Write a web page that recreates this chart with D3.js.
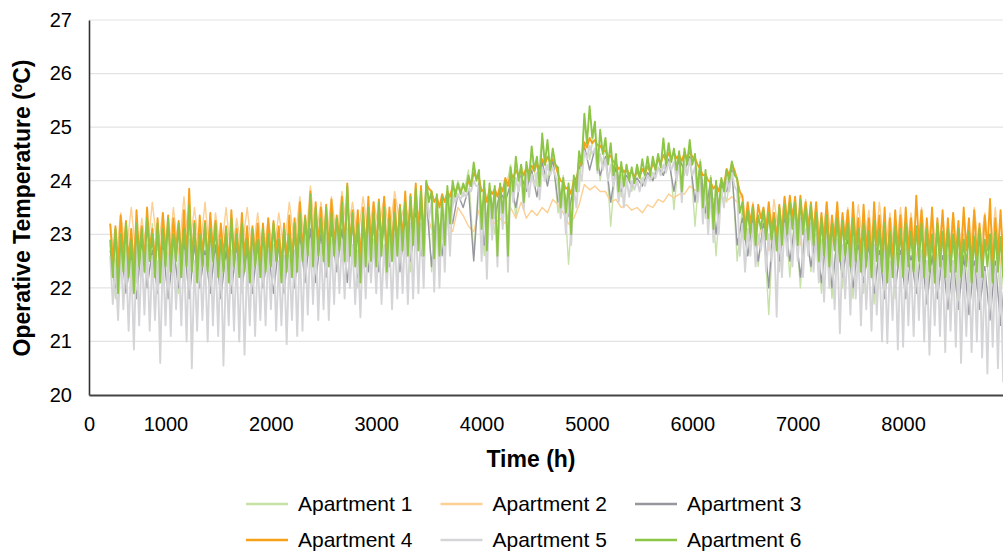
<!DOCTYPE html>
<html>
<head>
<meta charset="utf-8">
<script src="https://cdn.jsdelivr.net/npm/d3@7"></script>
<style>
  body { margin: 0; background: #fff; }
  svg { display: block; font-family: "Liberation Sans", Arial, sans-serif; }
</style>
</head>
<body>
<svg id="chart" width="1003" height="556"></svg>
<script>
// time stamps (h) of the daily peaks; troughs sit half a step later
const fineHours = d3.range(475, 9000, 50);    // 171 peaks
const coarseHours = d3.range(475, 9000, 100); // 86 peaks

const yTicks = [20, 21, 22, 23, 24, 25, 26, 27];
const xTicks = [0, 1000, 2000, 3000, 4000, 5000, 6000, 7000, 8000];

const seriesNames = ["Apartment 1", "Apartment 2", "Apartment 3", "Apartment 4", "Apartment 5", "Apartment 6"];
const seriesColors = ["#c6e2a6", "#fccf92", "#96969e", "#f7a11a", "#d5d5d7", "#8dc646"];

// ---- Apartment 1 (coarse) ----
const apt1Max = [
  22.8, 23.0, 23.1, 23.0, 23.2, 23.1, 23.0, 23.3, 23.1, 23.2,
  23.1, 23.0, 23.2, 23.0, 23.1, 23.0, 23.1, 23.2, 23.3, 23.6,
  23.4, 23.3, 23.5, 23.3, 23.4, 23.5, 23.4, 23.5, 23.6, 23.8,
  24.0, 23.4, 23.8, 24.0, 24.2, 24.1, 23.9, 23.9, 24.3, 24.3,
  24.5, 24.8, 24.5, 24.1, 23.9, 25.1, 25.0, 24.7, 24.4, 24.3,
  24.3, 24.4, 24.4, 24.7, 24.5, 24.6, 24.4, 24.1, 24.0, 24.3,
  23.5, 23.4, 23.3, 23.4, 23.5, 23.5, 23.4, 23.3, 23.2, 23.2,
  23.1, 23.1, 23.2, 23.0, 23.1, 23.0, 23.1, 23.1, 23.0, 23.0,
  22.9, 23.0, 23.0, 22.9, 23.0, 22.9
];
const apt1Min = [
  21.8, 22.0, 22.1, 22.3, 22.0, 22.2, 21.9, 22.2, 22.0, 22.1,
  22.0, 22.2, 21.9, 22.1, 22.0, 22.2, 22.0, 22.1, 22.2, 22.4,
  22.3, 22.4, 22.5, 22.0, 22.3, 22.3, 22.4, 22.5, 22.3, 22.6,
  22.3, 22.9, 23.5, 23.7, 22.6, 22.6, 23.0, 23.8, 23.3, 23.9,
  23.9, 24.0, 23.4, 22.44, 23.8, 24.4, 24.0, 23.15, 23.7, 23.8,
  23.9, 24.0, 24.1, 23.46, 24.1, 23.15, 23.3, 22.6, 23.6, 22.5,
  22.6, 22.4, 21.5, 22.3, 22.2, 22.0, 22.3, 21.9, 21.8, 22.0,
  21.8, 21.9, 21.7, 22.0, 21.8, 21.9, 22.0, 21.8, 21.9, 21.9,
  21.8, 21.9, 21.7, 21.9, 21.8, 21.8
];

// ---- Apartment 2 (coarse) ----
const apt2Max = [
  23.2, 23.4, 23.5, 23.3, 23.6, 23.4, 23.5, 23.7, 23.5, 23.6,
  23.4, 23.5, 23.3, 23.5, 23.4, 23.3, 23.4, 23.6, 23.7, 23.9,
  23.6, 23.7, 23.8, 23.6, 23.7, 23.6, 23.7, 23.8, 23.6, 23.5,
  23.4, 23.2, 23.2, 23.5, 23.15, 23.45, 23.35, 23.3, 23.5, 23.6,
  23.45, 23.5, 23.65, 23.4, 23.3, 23.93, 23.9, 23.8, 23.65, 23.55,
  23.5, 23.55, 23.65, 23.75, 23.75, 23.9, 23.88, 23.72, 23.72, 23.7,
  23.75, 23.6, 23.5, 23.65, 23.7, 23.6, 23.65, 23.55, 23.6, 23.5,
  23.5, 23.55, 23.45, 23.6, 23.4, 23.5, 23.4, 23.5, 23.4, 23.35,
  23.4, 23.35, 23.5, 23.4, 23.5, 23.6
];
const apt2Min = [
  22.4, 22.6, 22.5, 22.6, 22.7, 22.5, 22.6, 22.7, 22.6, 22.5,
  22.6, 22.5, 22.7, 22.6, 22.5, 22.6, 22.7, 22.8, 22.7, 22.9,
  22.8, 22.9, 23.0, 22.9, 23.0, 23.1, 23.0, 23.2, 23.1, 23.3,
  23.1, 23.1, 23.05, 23.35, 23.05, 23.4, 23.2, 23.2, 23.3, 23.3,
  23.35, 23.4, 23.55, 23.19, 23.55, 23.83, 23.8, 23.6, 23.5, 23.45,
  23.4, 23.5, 23.6, 23.68, 23.75, 23.82, 23.65, 23.6, 23.62, 23.6,
  22.9, 22.8, 22.7, 22.9, 23.0, 22.8, 22.9, 22.7, 22.8, 22.6,
  22.6, 22.7, 22.5, 22.6, 22.5, 22.6, 22.5, 22.6, 22.5, 22.4,
  22.5, 22.4, 22.6, 22.5, 22.4, 22.5
];

// ---- Apartment 3 (coarse) ----
const apt3Max = [
  22.7, 22.8, 22.6, 22.9, 22.7, 22.8, 22.7, 22.9, 22.8, 22.7,
  22.8, 22.7, 22.8, 22.7, 22.8, 22.7, 22.8, 22.9, 23.0, 23.1,
  23.0, 23.1, 23.1, 23.2, 23.1, 23.2, 23.2, 23.3, 23.3, 23.4,
  23.7, 23.5, 23.6, 23.75, 23.85, 23.95, 23.8, 23.8, 23.95, 24.1,
  24.2, 24.35, 24.4, 23.9, 23.95, 24.65, 24.6, 24.45, 24.25, 24.1,
  24.05, 24.15, 24.25, 24.4, 24.4, 24.45, 24.3, 24.0, 23.9, 24.2,
  23.3, 23.3, 23.2, 23.4, 23.3, 23.2, 23.1, 23.0, 23.0, 22.9,
  22.9, 22.8, 22.8, 22.7, 22.8, 22.7, 22.6, 22.7, 22.6, 22.6,
  22.5, 22.6, 22.5, 22.4, 22.5, 22.4
];
const apt3Min = [
  22.0, 21.9, 21.8, 22.0, 21.9, 21.8, 22.0, 21.8, 22.0, 21.9,
  21.8, 21.9, 22.0, 21.9, 22.0, 21.9, 21.9, 22.0, 22.1, 22.1,
  22.2, 22.3, 22.1, 22.2, 22.3, 22.3, 22.4, 22.3, 22.5, 22.6,
  22.4, 22.6, 23.2, 23.5, 22.5, 22.8, 23.3, 23.6, 23.5, 23.8,
  23.7, 23.9, 23.6, 23.34, 24.2, 24.2, 24.1, 23.6, 23.8, 23.9,
  23.9, 24.0, 24.1, 23.8, 24.2, 23.6, 23.4, 23.0, 23.8, 22.8,
  22.6, 22.5, 22.0, 22.5, 22.5, 22.2, 22.4, 22.1, 22.0, 22.2,
  22.0, 22.1, 21.9, 21.8, 22.0, 21.8, 21.9, 21.7, 21.8, 21.6,
  21.6, 21.5, 21.6, 21.4, 21.3, 21.2
];

// ---- Apartment 4 (fine) ----
const apt4Max = [
  23.2, 23.15, 23.35, 23.25, 23.1, 23.45, 23.15, 23.5, 23.1, 23.3,
  23.4, 23.35, 23.3, 23.25, 23.45, 23.85, 23.25, 23.35, 23.25, 23.4,
  23.25, 23.2, 23.15, 23.45, 23.1, 23.4, 23.15, 23.15, 23.2, 23.2,
  23.3, 23.25, 23.15, 23.2, 23.35, 23.3, 23.6, 23.35, 23.8, 23.6,
  23.5, 23.55, 23.65, 23.35, 23.7, 23.95, 23.45, 23.45, 23.5, 23.7,
  23.6, 23.65, 23.7, 23.5, 23.65, 23.55, 23.8, 23.75, 23.95, 23.9,
  23.95, 23.8, 23.7, 23.75, 23.8, 23.9, 23.9, 23.9, 24.0, 24.15,
  24.05, 23.85, 23.85, 23.85, 23.9, 24.05, 24.15, 24.2, 24.2, 24.25,
  24.28, 24.32, 24.4, 24.45, 24.4, 24.12, 23.97, 23.88, 24.02, 24.38,
  24.72, 24.8, 24.76, 24.66, 24.56, 24.46, 24.32, 24.26, 24.22, 24.17,
  24.17, 24.22, 24.27, 24.32, 24.42, 24.48, 24.52, 24.52, 24.47, 24.52,
  24.54, 24.42, 24.22, 24.12, 23.97, 23.92, 24.02, 24.22, 24.32, 24.02,
  23.7, 23.6, 23.55, 23.55, 23.5, 23.6, 23.4, 23.55, 23.7, 23.72,
  23.7, 23.72, 23.6, 23.6, 23.6, 23.4, 23.6, 23.35, 23.6, 23.4,
  23.45, 23.6, 23.3, 23.55, 23.3, 23.6, 23.35, 23.5, 23.3, 23.45,
  23.35, 23.5, 23.3, 23.72, 23.45, 23.3, 23.5, 23.3, 23.45, 23.3,
  23.4, 23.25, 23.5, 23.3, 23.45, 23.2, 23.35, 23.66, 23.3, 23.45,
  23.7
];
const apt4Min = [
  22.5, 22.4, 22.6, 22.5, 22.3, 22.6, 22.5, 22.7, 22.5, 22.4,
  22.6, 22.5, 22.7, 22.5, 22.6, 22.5, 22.4, 22.6, 22.5, 22.7,
  22.5, 22.6, 22.4, 22.6, 22.5, 22.6, 22.4, 22.6, 22.5, 22.5,
  22.6, 22.7, 22.4, 22.5, 22.5, 22.6, 22.7, 22.8, 22.7, 22.8,
  22.7, 22.7, 22.8, 22.9, 22.7, 22.8, 22.7, 22.5, 22.7, 22.8,
  22.7, 22.8, 22.6, 22.7, 22.8, 22.9, 22.9, 23.0, 23.0, 22.9,
  23.85, 23.6, 23.5, 23.6, 23.7, 23.8, 23.8, 23.82, 23.9, 24.05,
  23.8, 23.6, 23.75, 23.7, 23.8, 23.9, 24.05, 24.1, 24.1, 24.15,
  24.18, 24.22, 24.3, 24.35, 24.3, 24.0, 23.85, 23.75, 23.92, 24.28,
  24.62, 24.7, 24.66, 24.56, 24.46, 24.36, 24.22, 24.16, 24.12, 24.07,
  24.07, 24.12, 24.17, 24.22, 24.32, 24.38, 24.42, 24.42, 24.37, 24.42,
  24.44, 24.3, 24.1, 24.0, 23.85, 23.8, 23.9, 24.1, 24.2, 23.8,
  23.1, 23.2, 23.0, 23.3, 23.1, 23.1, 22.9, 23.0, 23.2, 23.3,
  23.0, 23.2, 23.1, 23.0, 22.8, 22.9, 22.7, 22.9, 22.8, 22.9,
  22.7, 22.8, 22.6, 22.7, 22.5, 22.8, 22.6, 22.4, 22.5, 22.7,
  22.5, 22.7, 22.6, 22.8, 22.5, 22.6, 22.4, 22.7, 22.5, 22.6,
  22.6, 22.5, 22.7, 22.4, 22.6, 22.5, 22.7, 22.4, 22.6, 22.5,
  22.5
];

// ---- Apartment 5 (fine) ----
const apt5Max = [
  22.6, 22.4, 22.7, 22.6, 22.5, 22.8, 22.7, 22.8, 22.6, 22.5,
  22.7, 22.6, 22.8, 22.6, 22.7, 22.9, 22.5, 22.7, 22.6, 22.8,
  22.6, 22.7, 22.5, 22.7, 22.6, 22.7, 22.5, 22.7, 22.6, 22.6,
  22.7, 22.8, 22.5, 22.6, 22.6, 22.7, 22.8, 22.9, 22.9, 22.9,
  22.8, 22.9, 22.9, 23.0, 22.9, 23.1, 22.8, 22.7, 22.9, 23.0,
  22.9, 23.0, 22.8, 22.9, 23.0, 23.1, 23.1, 23.2, 23.3, 23.2,
  23.8, 23.6, 23.5, 23.55, 23.6, 23.75, 23.75, 23.78, 23.85, 24.0,
  23.9, 23.7, 23.75, 23.7, 23.75, 23.85, 24.0, 24.05, 24.05, 24.1,
  24.12, 24.15, 24.25, 24.3, 24.25, 23.95, 23.8, 23.7, 23.85, 24.2,
  24.55, 24.65, 24.6, 24.5, 24.4, 24.3, 24.15, 24.1, 24.05, 24.0,
  24.0, 24.05, 24.1, 24.15, 24.25, 24.3, 24.35, 24.35, 24.3, 24.35,
  24.4, 24.25, 24.05, 23.95, 23.8, 23.75, 23.85, 24.05, 24.15, 23.8,
  23.2, 23.1, 23.2, 23.0, 23.1, 23.0, 23.0, 23.2, 23.2, 23.3,
  23.2, 23.3, 23.1, 23.2, 23.0, 22.9, 23.0, 22.8, 22.9, 22.8,
  22.8, 22.9, 22.7, 22.8, 22.6, 22.8, 22.6, 22.7, 22.5, 22.6,
  22.6, 22.7, 22.5, 22.6, 22.7, 22.5, 22.4, 22.6, 22.5, 22.6,
  22.5, 22.6, 22.4, 22.5, 22.4, 22.6, 22.3, 22.5, 22.4, 22.4,
  22.3
];
const apt5Min = [
  21.7, 21.4, 21.6, 21.2, 20.85, 21.3, 21.5, 21.2, 21.4, 20.6,
  21.3, 21.1, 21.6, 21.3, 21.0, 20.5, 21.2, 21.4, 21.0, 21.3,
  21.1, 20.55, 21.3, 21.2, 21.0, 20.75, 21.3, 21.1, 21.4, 21.3,
  21.6, 21.2, 21.3, 20.95, 21.4, 21.1, 21.2, 21.5, 21.7, 21.4,
  21.6, 21.4, 21.7, 21.9, 21.8, 22.0, 21.7, 21.45, 21.8, 22.1,
  21.9, 21.7, 22.0, 21.6, 21.8, 21.9, 21.7, 21.8, 21.9, 22.0,
  23.3, 21.93, 22.0, 22.3, 22.6, 23.6, 23.65, 23.7, 23.8, 23.9,
  22.5, 22.17, 22.9, 22.4, 23.1, 22.3, 23.6, 23.8, 23.46, 23.7,
  23.9, 23.65, 24.0, 24.1, 24.1, 23.3, 23.0, 22.8, 23.5, 24.0,
  24.4, 24.5, 24.14, 24.2, 24.0, 23.9, 23.6, 23.5, 23.7, 23.83,
  23.8, 23.9, 24.0, 24.05, 24.1, 24.15, 24.2, 24.0, 23.6, 24.1,
  24.1, 23.6, 23.2, 23.0, 22.85, 23.0, 23.5, 23.8, 23.9, 22.6,
  22.3, 22.6, 22.4, 22.7, 22.3, 22.5, 21.46, 22.2, 22.6, 22.4,
  22.5, 22.2, 22.6, 22.3, 22.1, 21.74, 22.0, 21.6, 21.15, 21.8,
  21.5, 21.8, 21.3, 21.6, 21.2, 21.5, 21.0, 20.97, 21.4, 20.85,
  20.9, 21.3, 21.1, 21.4, 21.0, 20.75, 21.3, 21.1, 20.8, 21.2,
  20.9, 20.6, 21.1, 20.8, 21.0, 20.7, 20.4, 20.9, 20.5, 20.25,
  20.2
];

// ---- Apartment 6 (fine) ----
const apt6Max = [
  22.9, 23.1, 23.0, 23.2, 22.9, 23.2, 23.1, 23.3, 23.0, 23.2,
  23.1, 23.3, 23.0, 23.2, 23.1, 23.55, 23.2, 23.0, 23.2, 23.1,
  23.2, 22.9, 23.1, 23.3, 23.0, 23.2, 22.9, 23.1, 22.9, 23.1,
  23.0, 23.2, 22.9, 23.1, 23.0, 23.2, 23.4, 23.3, 23.75, 23.5,
  23.3, 23.5, 23.4, 23.3, 23.6, 23.9, 23.4, 23.2, 23.4, 23.5,
  23.4, 23.6, 23.5, 23.3, 23.4, 23.5, 23.6, 23.7, 23.85, 23.8,
  24.0, 23.8, 23.75, 23.7, 23.9, 24.0, 23.95, 23.95, 24.1, 24.34,
  24.2, 24.0, 23.95, 23.9, 23.95, 24.0, 24.25, 24.45, 24.3, 24.35,
  24.64, 24.45, 24.88, 24.76, 24.6, 24.25, 24.05, 23.95, 24.1, 24.55,
  25.25, 25.39, 25.1, 24.95, 24.8, 24.7, 24.5, 24.35, 24.3, 24.25,
  24.3, 24.4, 24.45, 24.45, 24.5, 24.79, 24.7, 24.6, 24.55, 24.6,
  24.76, 24.5, 24.35, 24.2, 24.05, 24.0, 24.05, 24.2, 24.36, 24.05,
  23.6, 23.45, 23.5, 23.35, 23.45, 23.4, 23.3, 23.5, 23.55, 23.6,
  23.6, 23.65, 23.5, 23.55, 23.4, 23.3, 23.35, 23.2, 23.3, 23.25,
  23.2, 23.3, 23.1, 23.2, 23.05, 23.25, 23.1, 23.2, 23.05, 23.15,
  23.1, 23.2, 23.05, 23.15, 23.2, 23.1, 23.0, 23.2, 23.05, 23.1,
  23.0, 23.1, 22.9, 23.05, 22.95, 23.1, 22.9, 23.0, 23.05, 22.95,
  23.0
];
const apt6Min = [
  22.2, 21.9, 22.3, 22.2, 21.9, 22.4, 22.3, 22.5, 22.2, 22.1,
  22.4, 22.3, 22.5, 22.2, 22.4, 22.3, 22.1, 22.4, 22.3, 22.5,
  22.2, 22.3, 22.1, 22.4, 22.2, 22.3, 22.1, 22.4, 22.2, 22.3,
  22.4, 22.5, 22.1, 22.3, 22.2, 22.3, 22.5, 22.6, 22.4, 22.6,
  22.5, 22.4, 22.6, 22.7, 22.5, 22.6, 22.4, 22.1, 22.4, 22.5,
  22.4, 22.6, 22.3, 22.5, 22.6, 22.7, 22.6, 22.8, 22.7, 22.6,
  23.6, 22.55, 22.6, 22.8, 23.2, 23.7, 23.75, 23.8, 23.9, 24.0,
  23.1, 22.7, 23.3, 22.6, 23.4, 22.6, 23.8, 24.0, 23.6, 24.0,
  24.2, 23.9, 24.3, 24.2, 24.3, 23.5, 23.4, 23.0, 23.8, 24.3,
  24.7, 24.8, 24.2, 24.5, 24.3, 24.1, 23.8, 23.9, 24.0, 23.95,
  24.05, 24.1, 24.1, 24.2, 24.25, 24.3, 24.35, 24.2, 23.8, 24.3,
  24.3, 23.8, 23.5, 23.3, 23.1, 23.4, 23.8, 24.0, 24.1, 23.4,
  22.9, 23.0, 22.8, 23.1, 22.9, 22.9, 22.7, 22.8, 23.0, 23.1,
  22.8, 23.0, 22.9, 22.8, 22.5, 22.6, 22.4, 22.7, 22.5, 22.6,
  22.4, 22.5, 22.3, 22.4, 22.2, 22.5, 22.3, 22.1, 22.2, 22.4,
  22.2, 22.4, 22.3, 22.5, 22.2, 22.3, 22.1, 22.4, 22.2, 22.3,
  22.3, 22.2, 22.4, 22.1, 22.3, 22.2, 22.4, 22.1, 22.3, 22.2,
  22.1
];

// peak / trough pairs into one polyline
function zigzag(hours, maxs, mins, half) {
  return hours.flatMap((h, i) => [[h, maxs[i]], [h + half, mins[i]]]);
}

const series = [
  zigzag(coarseHours, apt1Max, apt1Min, 50),
  zigzag(coarseHours, apt2Max, apt2Min, 50),
  zigzag(coarseHours, apt3Max, apt3Min, 50),
  zigzag(fineHours, apt4Max, apt4Min, 25),
  zigzag(fineHours, apt5Max, apt5Min, 25),
  zigzag(fineHours, apt6Max, apt6Min, 25)
];

const plot = {left: 89, right: 1003, top: 20, bottom: 395};

const x = d3.scaleLinear().domain([274, 8948]).range([plot.left, plot.right]);
const xAxisScale = x.copy().clamp(true);
const y = d3.scaleLinear().domain([20, 27]).range([plot.bottom, plot.top]);

const svg = d3.select("#chart");

svg.append("defs").append("clipPath").attr("id", "plotClip")
  .append("rect")
  .attr("x", plot.left).attr("y", plot.top - 2)
  .attr("width", plot.right - plot.left).attr("height", plot.bottom - plot.top + 2);

// gridlines
svg.append("g").selectAll("line")
  .data(yTicks.slice(1))
  .enter().append("line")
  .attr("x1", plot.left).attr("x2", plot.right)
  .attr("y1", d => y(d)).attr("y2", d => y(d))
  .attr("stroke", "#e3e3e3").attr("stroke-width", 1.2);

// series
const line = d3.line().x(d => x(d[0])).y(d => y(d[1]));
svg.append("g").attr("clip-path", "url(#plotClip)")
  .selectAll("path")
  .data(series)
  .enter().append("path")
  .attr("d", line)
  .attr("fill", "none")
  .attr("stroke", (d, i) => seriesColors[i])
  .attr("stroke-width", (d, i) => i >= 3 ? 1.9 : 1.4)
  .attr("stroke-linejoin", "round");

// axes
const yAxis = svg.append("g")
  .attr("transform", "translate(" + plot.left + ",0)")
  .call(d3.axisLeft(y).tickValues(yTicks).tickSize(0).tickPadding(17).tickFormat(d3.format("d")));
yAxis.select(".domain").attr("stroke", "#333").attr("stroke-width", 1.6);
yAxis.selectAll("text").attr("font-size", 20).attr("fill", "#000")
  .attr("font-family", "Liberation Sans, Arial, sans-serif");

const xAxis = svg.append("g")
  .attr("transform", "translate(0," + plot.bottom + ")")
  .call(d3.axisBottom(xAxisScale).tickValues(xTicks).tickSize(0).tickPadding(22).tickFormat(d3.format("d")));
xAxis.select(".domain").attr("stroke", "#444").attr("stroke-width", 1.8);
xAxis.selectAll("text").attr("font-size", 20).attr("fill", "#000")
  .attr("font-family", "Liberation Sans, Arial, sans-serif");

// titles
svg.append("text")
  .attr("x", 531).attr("y", 467)
  .attr("text-anchor", "middle")
  .attr("font-size", 23).attr("font-weight", "bold")
  .text("Time (h)");

svg.append("text")
  .attr("transform", "translate(30,208) rotate(-90)")
  .attr("text-anchor", "middle")
  .attr("font-size", 23).attr("font-weight", "bold")
  .text("Operative Temperature (ºC)");

// legend, 3 per row
const legend = svg.append("g").selectAll("g")
  .data(seriesNames)
  .enter().append("g")
  .attr("transform", (d, i) => "translate(" + (246 + (i % 3) * 194.5) + "," + (504 + Math.floor(i / 3) * 36) + ")");
legend.append("line")
  .attr("x1", 0).attr("x2", 42).attr("y1", 0).attr("y2", 0)
  .attr("stroke", (d, i) => seriesColors[i]).attr("stroke-width", 2.6);
legend.append("text")
  .attr("x", 52).attr("dy", "0.35em")
  .attr("font-size", 21)
  .text(d => d);
</script>
</body>
</html>
